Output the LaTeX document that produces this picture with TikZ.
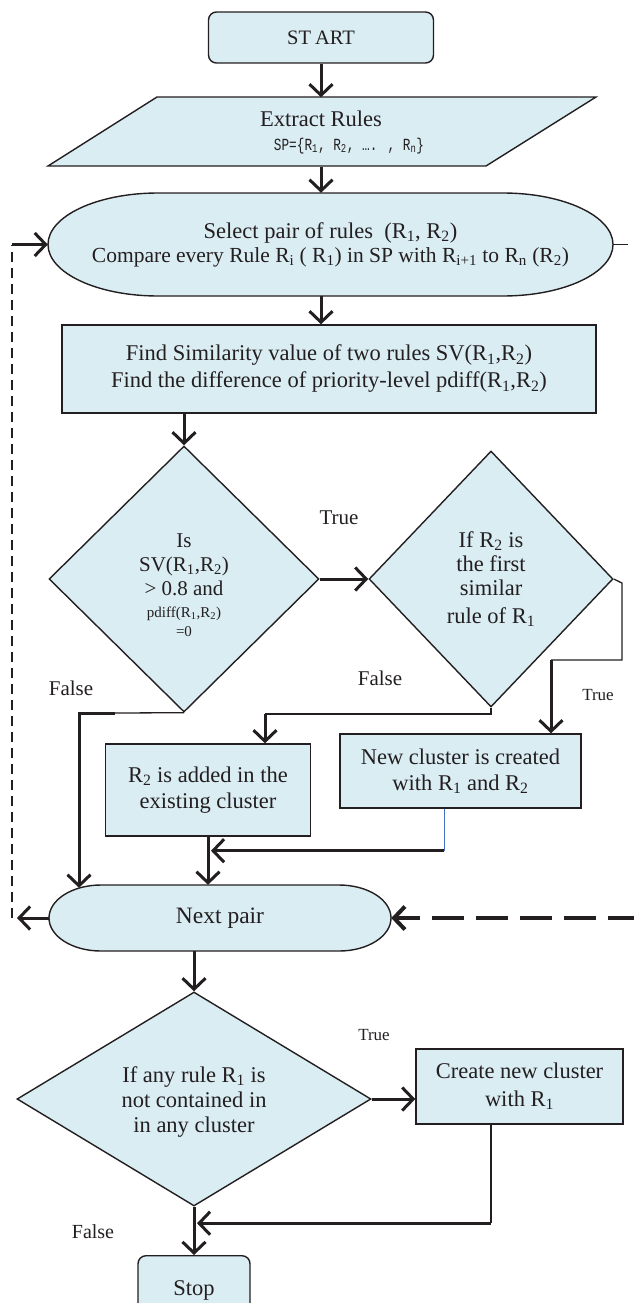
\documentclass[tikz,border=0pt]{standalone}
\usepackage{fontspec}
\setmainfont{Liberation Serif}
\newfontfamily\monof{Liberation Mono}[FakeStretch=0.75]
\usetikzlibrary{arrows.meta,shapes.geometric}
\definecolor{fillc}{RGB}{218,237,243}
\definecolor{linec}{RGB}{35,31,32}
\definecolor{bluel}{RGB}{68,114,196}
\begin{document}
\begin{tikzpicture}[x=1pt,y=1pt,
  shp/.style={draw=linec, fill=fillc, line width=1.4pt},
  txt/.style={font=\fontsize{22.5}{27}\selectfont, align=center, text=linec, inner sep=0pt},
  boxn/.style={shp, rectangle, inner sep=0pt, align=center, text=linec, font=\fontsize{22.5}{27}\selectfont},
  dia/.style={shp, diamond, inner sep=0pt},
  conn/.style={draw=linec, line width=3pt, -{Straight Barb[length=11pt,width=23pt]}},
  thinl/.style={draw=linec, line width=1.3pt},
  lbl/.style={font=\fontsize{21}{25}\selectfont, text=linec, inner sep=0pt},
  slbl/.style={font=\fontsize{17}{20}\selectfont, text=linec, inner sep=0pt},
]
\clip (0,0) rectangle (634,-1303);
\fill[white] (0,0) rectangle (634,-1303);

% custom outlines
\draw[shp] (157,-97) -- (596,-97) -- (486,-166) -- (48,-166) -- cycle;
\draw[shp] (158,-193) -- (503,-193) .. controls (563.75,-193) and (613,-216.06) .. (613,-244.5)
  .. controls (613,-272.94) and (563.75,-296) .. (503,-296) -- (158,-296)
  .. controls (97.25,-296) and (48,-272.94) .. (48,-244.5)
  .. controls (48,-216.06) and (97.25,-193) .. (158,-193) -- cycle;
\draw[shp] (101,-885) -- (339,-885) .. controls (367.72,-885) and (391,-899.77) .. (391,-918)
  .. controls (391,-936.23) and (367.72,-951) .. (339,-951) -- (101,-951)
  .. controls (72.28,-951) and (49,-936.23) .. (49,-918)
  .. controls (49,-899.77) and (72.28,-885) .. (101,-885) -- cycle;

% nodes
\node[boxn, rounded corners=8pt, minimum width=225pt, minimum height=51pt, font=\fontsize{20.5}{24}\selectfont] (start) at (321,-37.5) {ST\kern4pt ART};
\node[txt, minimum width=330pt, minimum height=69pt] (extract) at (321,-132)
  {Extract Rules\\[-3pt]\hspace*{56pt}{\monof\fontsize{17}{20}\selectfont SP=\{R\textsubscript{1}, R\textsubscript{2}, …. , R\textsubscript{n}\}}};
\node[txt, minimum width=565pt, minimum height=103pt] (sel) at (330.5,-244.5)
  {Select pair of rules\enspace(R\textsubscript{1}, R\textsubscript{2})\\[-3pt]{\fontsize{21.5}{26}\selectfont Compare every Rule R\textsubscript{i} ( R\textsubscript{1}) in SP with R\textsubscript{i+1} to R\textsubscript{n} (R\textsubscript{2})}};
\node[boxn, minimum width=534pt, minimum height=88pt] (find) at (329,-369)
  {Find Similarity value of two rules SV(R\textsubscript{1},R\textsubscript{2})\\Find the difference of priority-level pdiff(R\textsubscript{1},R\textsubscript{2})};

\node[dia, minimum width=270pt, minimum height=266pt] (d1) at (184,-579) {};
\node[txt, font=\fontsize{21}{24}\selectfont] (d1t) at (184,-585)
  {Is\\SV(R\textsubscript{1},R\textsubscript{2})\\> 0.8 and\\[-2pt]{\fontsize{15}{17}\selectfont pdiff(R\textsubscript{1},R\textsubscript{2})}\\[-5pt]{\fontsize{15}{17}\selectfont =0}};
\node[dia, minimum width=244pt, minimum height=256pt] (d2) at (491,-579) {};
\node[txt, font=\fontsize{22.5}{24}\selectfont] (d2t) at (491,-579)
  {If R\textsubscript{2} is\\the first\\similar\\[4pt]rule of R\textsubscript{1}};

\node[boxn, minimum width=241pt, minimum height=74pt, font=\fontsize{22.5}{26}\selectfont] (newc) at (460.5,-771)
  {New cluster is created\\with R\textsubscript{1} and R\textsubscript{2}};
\node[boxn, minimum width=205pt, minimum height=92pt, font=\fontsize{22.5}{26}\selectfont] (added) at (208,-790)
  {R\textsubscript{2} is added in the\\existing cluster};
\node[txt, minimum width=342pt, minimum height=66pt, font=\fontsize{23.5}{27}\selectfont] (nextp) at (220,-918) {Next pair};

\node[dia, minimum width=354pt, minimum height=214pt] (d3) at (194,-1099) {};
\node[txt, font=\fontsize{22.5}{25}\selectfont] (d3t) at (194,-1102)
  {If any rule R\textsubscript{1} is\\not contained in\\in any cluster};
\node[boxn, minimum width=207pt, minimum height=75pt, font=\fontsize{22.5}{28}\selectfont] (cn) at (519.5,-1086.5)
  {Create new cluster\\with R\textsubscript{1}};
\node[boxn, rounded corners=8pt, minimum width=112pt, minimum height=70pt, anchor=north] (stop) at (194,-1255) {Stop};

% labels
\node[lbl] (lt1) at (339,-518) {True};
\node[lbl] (lf1) at (380,-678) {False};
\node[slbl] (lt2) at (598,-695) {True};
\node[lbl] (lf2) at (71,-688) {False};
\node[slbl] (lt3) at (374,-1035) {True};
\node[lbl, font=\fontsize{20}{24}\selectfont] (lf3) at (93,-1232) {False};

% connectors
\draw[conn] (start) -- (extract);
\draw[conn] (extract.south) -- (extract.south |- sel.north);
\draw[conn] (extract.south |- sel.south) -- (extract.south |- find.north);
\draw[conn] (find.south -| d1.north) -- (d1.north);
\draw[conn] (d1.east) -- (d2.west);

\coordinate (c2a) at (622,-583);
\coordinate (c2b) at (622,-660);
\coordinate (c2c) at (551,-660);
\draw[thinl] (d2.east) -- (c2a) -- (c2b) -- (c2c);
\draw[conn] (c2c) -- (c2c |- newc.north);

\coordinate (c3b) at (265,-714);
\draw[thinl] (d2.south) -- (d2.south |- c3b) -- (c3b);
\draw[conn] (c3b) -- (c3b |- added.north);

\coordinate (c1a) at (115,-713);
\coordinate (c1b) at (79,-713);
\draw[thinl] (d1.south) -- (c1a);
\draw[conn] (c1a) -- (c1b) -- ([yshift=-3pt]c1b |- nextp.north);

\draw[conn] (added.south) -- (added.south |- nextp.north);
\coordinate (c4a) at ([xshift=-16.5pt]newc.south);
\coordinate (c4b) at ([yshift=-42pt]c4a);
\draw[bluel, line width=1pt] (c4a) -- (c4b);
\draw[conn] (c4b) -- ([xshift=3pt]c4b -| added.south);

\coordinate (lp1) at (12,-918);
\coordinate (lp2) at (12,-244.5);
\draw[conn] (nextp.west) -- ([xshift=5pt]lp1);
\draw[linec, line width=1.2pt, dash pattern=on 10pt off 6pt] (lp1) -- (lp2);
\draw[conn] (lp2) -- (sel.west);
\draw[thinl] (sel.east) -- ++(15,0);
\coordinate (rp) at (640,-918);
\draw[conn, line width=4pt, dash pattern=on 32pt off 12pt] (rp) -- (nextp.east);

\draw[conn] (d3.north |- nextp.south) -- (d3.north);
\draw[conn] (d3.east) -- (d3.east -| cn.west);
\coordinate (c5a) at ([xshift=-28.5pt]cn.south);
\coordinate (c5b) at ([yshift=-98.5pt]c5a);
\draw[linec, line width=2pt] (c5a) -- (c5b);
\draw[conn] (c5b) -- ([xshift=3pt]c5b -| d3.south);
\draw[conn] (d3.south) -- (stop.north);
\end{tikzpicture}
\end{document}
